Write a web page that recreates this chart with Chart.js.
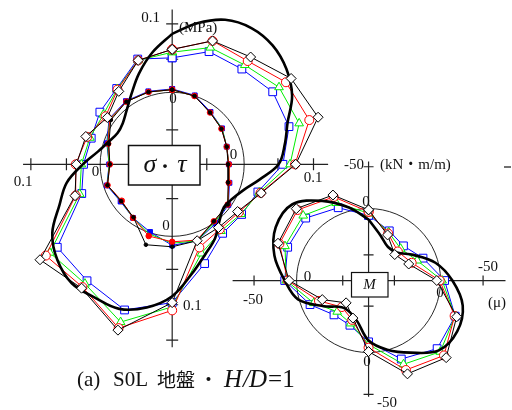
<!DOCTYPE html>
<html>
<head>
<meta charset="utf-8">
<style>
  html, body { margin: 0; padding: 0; background: #fff; }
  canvas { display: block; }
</style>
<script src="https://cdn.jsdelivr.net/npm/chart.js@4/dist/chart.umd.min.js"></script>
</head>
<body>
<canvas id="chart" width="512" height="410"></canvas>
<script>
// ---- earth pressure (σ) and shear (τ) around the pile, MPa; 20 directions, clockwise from top
const stressAngles = [90, 72, 54, 36, 18, 0, -18, -36, -54, -72, -90, -108, -126, -144, -162, 180, 162, 144, 126, 108];
const sigmaDiamond = [0.064, 0.085, 0.089, 0.108, 0.117, 0.075, 0.033, 0.015, 0.012, 0.015, 0.097, 0.148, 0.118, 0.131, 0.045, 0.036, 0.029, 0.014, 0.029, 0.056];
const sigmaCircle  = [0.064, 0.085, 0.082, 0.099, 0.104, 0.074, 0.032, 0.017, 0.015, 0.025, 0.108, 0.145, 0.116, 0.121, 0.044, 0.037, 0.027, 0.017, 0.032, 0.056];
const sigmaTriangle= [0.060, 0.075, 0.075, 0.087, 0.089, 0.067, 0.030, 0.021, 0.018, 0.034, 0.103, 0.136, 0.110, 0.114, 0.038, 0.029, 0.023, 0.021, 0.033, 0.056];
const sigmaSquare  = [0.052, 0.069, 0.068, 0.076, 0.074, 0.057, 0.028, 0.022, 0.022, 0.049, 0.097, 0.118, 0.105, 0.101, 0.035, 0.026, 0.021, 0.027, 0.034, 0.058];

const tauDot      = [0.007, 0.003, -0.008, -0.013, -0.018, -0.020, -0.016, -0.002, 0.001, 0.015, 0.018, 0.021, -0.006, -0.010, -0.003, -0.011, -0.005, 0.008, 0.011, 0.009];
const tauCircle   = [0.007, 0.003, -0.008, -0.013, -0.018, -0.019, -0.015, -0.002, 0.001, 0.014, 0.011, 0.008, -0.005, -0.011, -0.003, -0.011, -0.004, 0.010, 0.011, 0.009];
const tauTriangle = [0.007, 0.003, -0.008, -0.012, -0.018, -0.019, -0.015, -0.002, 0.003, 0.015, 0.013, 0.005, -0.005, -0.010, -0.003, -0.010, -0.003, 0.010, 0.011, 0.009];
const tauSquare   = [0.008, 0.004, -0.007, -0.012, -0.018, -0.019, -0.014, -0.001, 0.005, 0.015, 0.016, 0.002, -0.005, -0.009, -0.002, -0.010, -0.002, 0.011, 0.012, 0.010];

// analysis curve for σ, every 10°
const sigmaCurveAngles = [90, 80, 70, 60, 50, 40, 30, 20, 10, 0, -10, -20, -30, -40, -50, -60, -70, -80, -90, -100, -110, -120, -130, -140, -150, -160, -170, 180, 170, 160, 150, 140, 130, 120, 110, 100];
const sigmaCurve = [0.086, 0.104, 0.119, 0.124, 0.121, 0.111, 0.096, 0.074, 0.062, 0.051, 0.026, 0.008, -0.001, -0.004, 0.005, 0.022, 0.037, 0.059, 0.088, 0.107, 0.119, 0.119, 0.121, 0.112, 0.096, 0.070, 0.052, 0.027, 0.007, -0.004, -0.010, -0.008, 0.001, 0.016, 0.038, 0.062];

// ---- bending moment M, kN·m/m; 16 directions
const momentAngles = [90, 67.5, 45, 22.5, 0, -22.5, -45, -67.5, -90, -112.5, -135, -157.5, 180, 157.5, 135, 112.5];
const momentDiamond  = [-1.1, 23.1, 37.4, 30.1, 2.2, -28.4, -44.6, -35.5, -1.5, 33.0, 43.3, 22.6, -10.4, -31.4, -36.2, -25.9];
const momentCircle   = [1.1, 21.4, 32.5, 26.5, -1.1, -25.9, -41.1, -30.8, 2.9, 30.8, 36.6, 18.6, -12.1, -29.7, -34.1, -23.6];
const momentTriangle = [2.7, 19.8, 28.0, 19.8, -3.8, -26.4, -35.2, -23.8, 6.6, 26.4, 29.1, 12.2, -13.7, -22.9, -25.1, -16.2];
const momentSquare   = [5.2, 18.1, 23.5, 12.7, -6.6, -26.6, -30.2, -17.3, 9.5, 24.2, 24.0, 7.7, -15.4, -19.6, -21.1, -10.3];

const momentCurveAngles = [90, 75, 60, 45, 30, 15, 0, -15, -30, -45, -60, -75, -90, -105, -120, -135, -150, -165, 180, 165, 150, 135, 120, 105];
const momentCurve = [9.9, 26.4, 35.2, 34.1, 20.9, 1.1, -15.4, -30.8, -36.3, -33.0, -15.4, -2.2, 11.0, 30.8, 37.4, 36.3, 20.9, -3.3, -15.4, -30.8, -41.8, -42.9, -25.3, -6.6];

// axis tick values
const stressTicks = [-0.05, 0.05, 0.1, 0.15];
const momentTicks = [50, -50];

// ---- polar panels: zero circle radius r0, k = pixels per unit (negative: plotted inward)
const stressPanel = { cx: 170, cy: 163, r0: 72, k: 730, xMin: 17, xMax: 330, yMin: 3, yMax: 352 };
const momentPanel = { cx: 371.5, cy: 283, r0: 72, k: -0.91, xMin: 232, xMax: 512, yMin: 160, yMax: 403 };

function polar(panel, angles, values) {
  const pts = values.map((v, i) => {
    const a = angles[i] * Math.PI / 180;
    const r = panel.r0 + panel.k * v;
    return { x: panel.cx + r * Math.cos(a), y: panel.cy - r * Math.sin(a) };
  });
  pts.push(pts[0]);
  return pts;
}

function markerSet(data, color, style, radius, filled, order, width) {
  return {
    data, showLine: true, order,
    borderColor: color, borderWidth: width || 1, tension: 0,
    pointStyle: style, pointRadius: radius, pointHoverRadius: radius,
    pointBackgroundColor: filled ? color : '#fff',
    pointBorderColor: color, pointBorderWidth: 1
  };
}
function curveSet(data, order) {
  return {
    data, showLine: true, order,
    borderColor: '#000', borderWidth: 2.6, tension: 0.35,
    pointRadius: 0, pointHoverRadius: 0
  };
}

const datasets = [
  // σ
  markerSet(polar(stressPanel, stressAngles, sigmaDiamond), '#000', 'rectRot', 5, false, 1),
  curveSet(polar(stressPanel, sigmaCurveAngles, sigmaCurve), 2),
  markerSet(polar(stressPanel, stressAngles, sigmaCircle), '#ff0000', 'circle', 4.5, false, 3),
  markerSet(polar(stressPanel, stressAngles, sigmaTriangle), '#00ee00', 'triangle', 5, false, 4),
  markerSet(polar(stressPanel, stressAngles, sigmaSquare), '#0000ff', 'rect', 5.5, false, 5),
  // τ
  markerSet(polar(stressPanel, stressAngles, tauDot), '#000', 'circle', 1.8, true, 6),
  markerSet(polar(stressPanel, stressAngles, tauCircle), '#ff0000', 'circle', 2.8, true, 7),
  markerSet(polar(stressPanel, stressAngles, tauTriangle), '#00ee00', 'circle', 0, true, 8),
  markerSet(polar(stressPanel, stressAngles, tauSquare), '#0000ff', 'rect', 3.4, true, 9),
  // M
  markerSet(polar(momentPanel, momentAngles, momentDiamond), '#000', 'rectRot', 5, false, 1),
  curveSet(polar(momentPanel, momentCurveAngles, momentCurve), 2),
  markerSet(polar(momentPanel, momentAngles, momentCircle), '#ff0000', 'circle', 4.5, false, 3),
  markerSet(polar(momentPanel, momentAngles, momentTriangle), '#00ee00', 'triangle', 5, false, 4),
  markerSet(polar(momentPanel, momentAngles, momentSquare), '#0000ff', 'rect', 5.5, false, 5)
];

const SERIF = '"Liberation Serif", "Noto Sans CJK JP", serif';

function drawAxes(ctx, P, panel, ticks, tickLen) {
  const [cx, cy] = P(panel.cx, panel.cy);
  ctx.strokeStyle = '#222';
  ctx.lineWidth = 1.2;
  ctx.beginPath();
  ctx.moveTo(P(panel.xMin, 0)[0], cy); ctx.lineTo(P(panel.xMax, 0)[0], cy);
  ctx.moveTo(cx, P(0, panel.yMin)[1]); ctx.lineTo(cx, P(0, panel.yMax)[1]);
  ticks.forEach(v => {
    const r = panel.r0 + panel.k * v;
    [-1, 1].forEach(s => {
      const x = panel.cx + s * r, y = panel.cy + s * r;
      if (x >= panel.xMin && x <= panel.xMax) {
        const px = P(x, 0)[0];
        ctx.moveTo(px, cy - tickLen); ctx.lineTo(px, cy + tickLen);
      }
      if (y >= panel.yMin && y <= panel.yMax) {
        const py = P(0, y)[1];
        ctx.moveTo(cx - tickLen, py); ctx.lineTo(cx + tickLen, py);
      }
    });
  });
  ctx.stroke();
  // zero circle
  ctx.lineWidth = 0.9;
  ctx.strokeStyle = '#111';
  ctx.beginPath();
  ctx.arc(cx, cy, panel.r0, 0, Math.PI * 2);
  ctx.stroke();
}

function text(ctx, s, x, y, font, align) {
  ctx.font = font;
  ctx.textAlign = align || 'center';
  ctx.textBaseline = 'middle';
  ctx.fillStyle = '#111';
  ctx.fillText(s, x, y);
  return x + ctx.measureText(s).width;
}

const decor = {
  id: 'decor',
  beforeDatasetsDraw(chart) {
    const ctx = chart.ctx;
    const P = (x, y) => [chart.scales.x.getPixelForValue(x), chart.scales.y.getPixelForValue(y)];
    ctx.save();
    drawAxes(ctx, P, stressPanel, stressTicks, 6);
    drawAxes(ctx, P, momentPanel, momentTicks, 5);
    // edge of the neighbouring figure
    ctx.beginPath(); ctx.lineWidth = 1.2;
    ctx.moveTo(504, 167); ctx.lineTo(511, 167); ctx.stroke();
    ctx.restore();
  },
  afterDatasetsDraw(chart) {
    const ctx = chart.ctx;
    ctx.save();
    const f = '15px ' + SERIF;
    // σ・τ panel labels
    text(ctx, '0.1', 160, 18, f, 'right');
    text(ctx, '0.1', 23, 182, f);
    text(ctx, '0.1', 313, 178, f);
    text(ctx, '0.1', 183, 306, f, 'left');
    text(ctx, '(MPa)', 179, 28, f, 'left');
    text(ctx, '0', 173, 99, f);
    text(ctx, '0', 95.5, 172, f);
    text(ctx, '0', 233.5, 155, f);
    text(ctx, '0', 166, 226, f);
    // M panel labels
    text(ctx, '-50', 364, 165, f, 'right');
    text(ctx, '(kN・m/m)', 380, 165, f, 'left');
    text(ctx, '-50', 253, 300, f);
    text(ctx, '-50', 488, 267, f);
    text(ctx, '(μ)', 497, 303, f);
    text(ctx, '-50', 377, 403, f, 'left');
    text(ctx, '0', 366, 202, f);
    text(ctx, '0', 307.5, 277, f);
    text(ctx, '0', 440, 293, f);
    text(ctx, '0', 367, 362, f);

    // name boxes
    ctx.fillStyle = '#fff';
    ctx.strokeStyle = '#111';
    ctx.lineWidth = 1.5;
    ctx.fillRect(128.5, 145.5, 71.5, 39.5);
    ctx.strokeRect(128.5, 145.5, 71.5, 39.5);
    text(ctx, 'σ', 150, 165, 'italic 26px ' + SERIF);
    text(ctx, '・', 165, 166, '18px "Noto Sans CJK JP"');
    text(ctx, 'τ', 182, 165, 'italic 26px ' + SERIF);

    ctx.fillStyle = '#fff';
    ctx.lineWidth = 1.2;
    ctx.fillRect(351.5, 272.5, 36.5, 24.5);
    ctx.strokeRect(351.5, 272.5, 36.5, 24.5);
    text(ctx, 'M', 369.5, 285, 'italic 15px ' + SERIF);

    // caption
    text(ctx, '(a)', 77, 380, '21px ' + SERIF, 'left');
    text(ctx, 'S0L', 113, 380, '21px ' + SERIF, 'left');
    text(ctx, '地盤', 157, 380, '19px "Noto Sans CJK JP"', 'left');
    text(ctx, '・', 199, 380, '19px "Noto Sans CJK JP"', 'left');
    let x = text(ctx, 'H', 224, 380, 'italic 25px ' + SERIF, 'left');
    x = text(ctx, '/', x + 1, 380, 'italic 25px ' + SERIF, 'left');
    x = text(ctx, 'D', x - 1, 380, 'italic 25px ' + SERIF, 'left');
    text(ctx, '=1', x + 1, 380, '25px ' + SERIF, 'left');
    ctx.restore();
  }
};

new Chart(document.getElementById('chart'), {
  type: 'scatter',
  data: { datasets },
  options: {
    responsive: false,
    animation: false,
    devicePixelRatio: 1,
    layout: { padding: 0 },
    events: [],
    scales: {
      x: { type: 'linear', min: 0, max: 512, display: false },
      y: { type: 'linear', min: 0, max: 410, reverse: true, display: false }
    },
    plugins: { legend: { display: false }, tooltip: { enabled: false } }
  },
  plugins: [decor]
});
</script>
</body>
</html>
